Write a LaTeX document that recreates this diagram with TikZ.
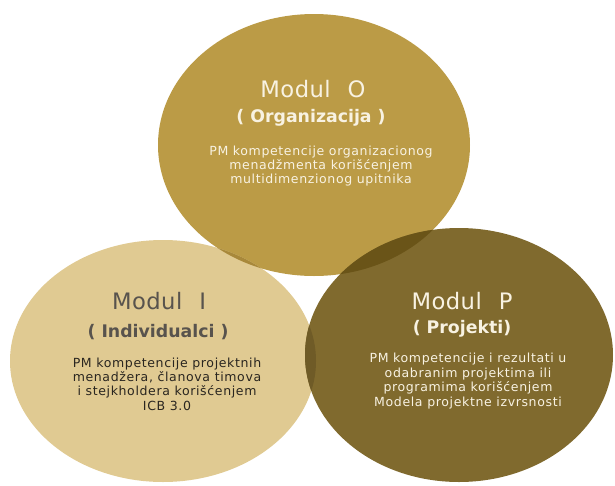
\documentclass[tikz,border=0pt]{standalone}
\usepackage{fontspec}
\newfontfamily\modfont[LetterSpace=2]{DejaVu Sans}
\newfontfamily\podfont{DejaVu Sans}
\newfontfamily\txtfont[LetterSpace=5]{DejaVu Sans}

\definecolor{bojaO}{HTML}{BB9B46}
\definecolor{bojaI}{HTML}{E0CA92}
\definecolor{bojaP}{HTML}{806A2E}
\definecolor{presekOI}{HTML}{A8883A}
\definecolor{presekOP}{HTML}{6A5418}
\definecolor{presekIP}{HTML}{6F5B27}
\definecolor{svetlo}{HTML}{F8F2E2}
\definecolor{sivo}{HTML}{58534D}
\definecolor{tamno}{HTML}{2A2620}

\begin{document}
\begin{tikzpicture}[x=0.75pt, y=-0.75pt,
  naslov/.style={font=\modfont\fontsize{17}{19}\selectfont},
  podnaslov/.style={font=\podfont\bfseries\fontsize{13}{15}\selectfont},
  opis/.style={font=\txtfont\fontsize{9.4}{10.8}\selectfont, align=center}]
\useasboundingbox (0,0) rectangle (615,486);

% Krugovi
\coordinate (cO) at (314,145);
\coordinate (cI) at (163,361);
\coordinate (cP) at (459,355);
\fill[bojaO] (cO) ellipse [x radius=156, y radius=131];
\fill[bojaI] (cI) ellipse [x radius=153, y radius=121];
\fill[bojaP] (cP) ellipse [x radius=154, y radius=127];

% Preklapanja
\begin{scope}
  \clip (cO) ellipse [x radius=156, y radius=131];
  \fill[presekOI] (cI) ellipse [x radius=153, y radius=121];
  \fill[presekOP] (cP) ellipse [x radius=154, y radius=127];
\end{scope}
\begin{scope}
  \clip (cI) ellipse [x radius=153, y radius=121];
  \fill[presekIP] (cP) ellipse [x radius=154, y radius=127];
\end{scope}

% Modul O
\node[naslov, text=svetlo] (naslovO) at (313,89) {Modul\hspace{0.75em}O};
\node[podnaslov, text=svetlo] (podO) at (311,118) {( Organizacija )};
\node[opis, text=svetlo] (opisO) at (321,166) {PM kompetencije organizacionog\\menadžmenta korišćenjem\\multidimenzionog upitnika};

% Modul I
\node[naslov, text=sivo] (naslovI) at (159,301) {Modul\hspace{0.75em}I};
\node[podnaslov, text=sivo] (podI) at (158,332) {( Individualci )};
\node[opis, text=tamno] (opisI) at (167,384) {PM kompetencije projektnih\\menadžera, članova timova\\i stejkholdera korišćenjem\\ICB 3.0};

% Modul P
\node[naslov, text=svetlo] (naslovP) at (462,301) {Modul\hspace{0.75em}P};
\node[podnaslov, text=svetlo] (podP) at (462,329) {( Projekti)};
\node[opis, text=svetlo] (opisP) at (468,381) {PM kompetencije i rezultati u\\odabranim projektima ili\\programima korišćenjem\\Modela projektne izvrsnosti};
\end{tikzpicture}
\end{document}
